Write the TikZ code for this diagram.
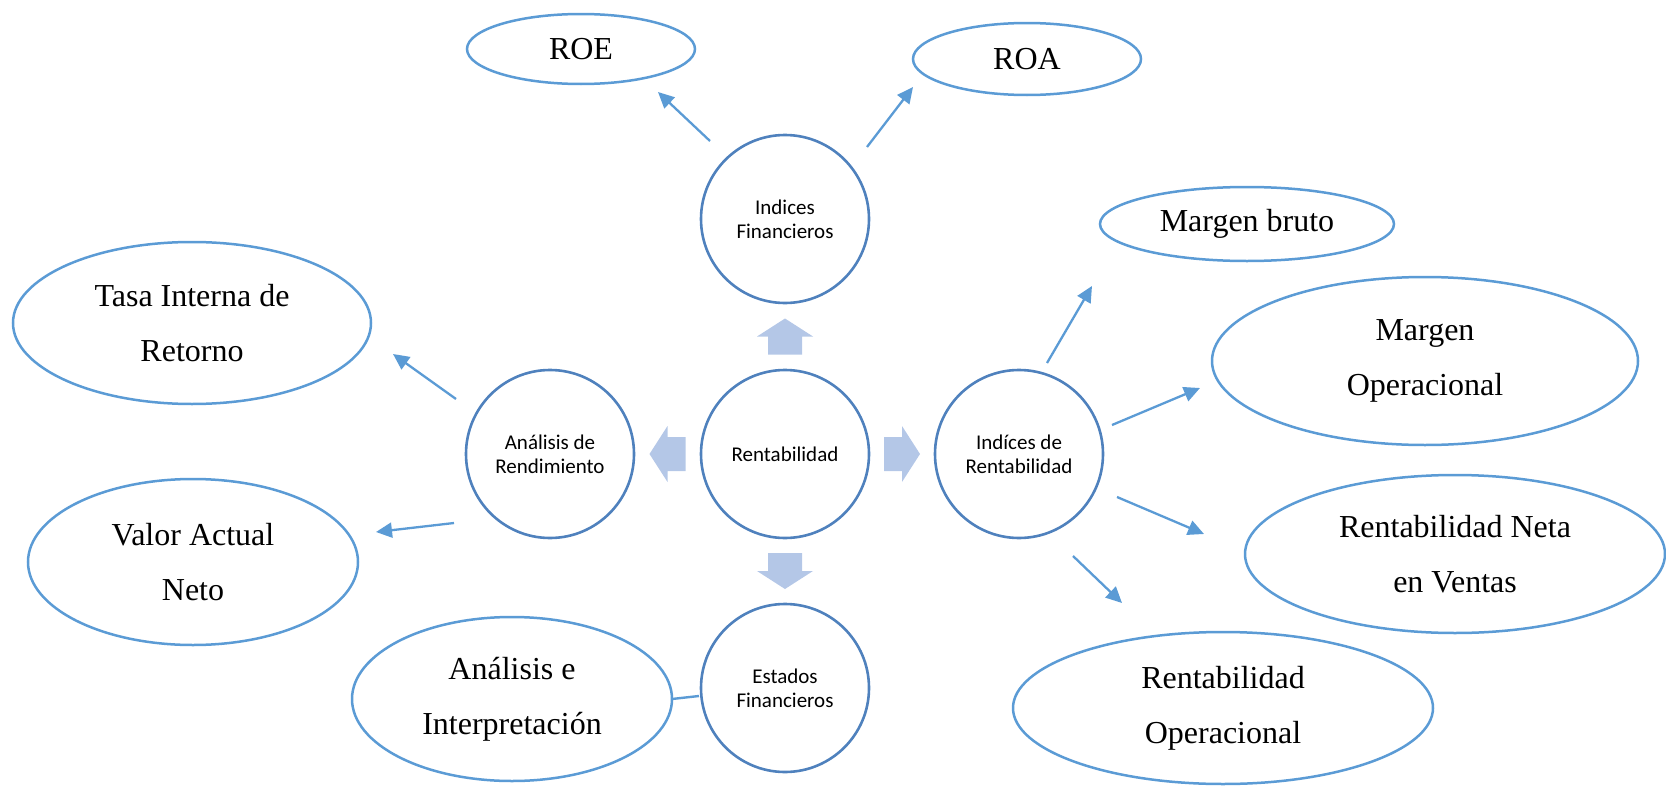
\documentclass[tikz,border=0pt]{standalone}
\usepackage{fontspec}
\setmainfont{Liberation Serif}
\newfontfamily\hubfont{Carlito}
\usetikzlibrary{shapes.geometric,arrows.meta,calc}

\definecolor{ringblue}{HTML}{4F81BD}
\definecolor{ovalblue}{HTML}{5B9BD5}
\definecolor{linkblue}{HTML}{5B9BD5}
\definecolor{blockblue}{HTML}{B4C7E7}

\begin{document}
\begin{tikzpicture}[x=0.5pt,y=-0.5pt,
  hub/.style={circle, draw=ringblue, line width=1.3pt, minimum size=84pt,
    inner sep=0pt, align=center, font=\hubfont\fontsize{10.5}{12}\selectfont},
  oval/.style 2 args={ellipse, draw=ovalblue, line width=1.25pt,
    minimum width=#1, minimum height=#2, inner sep=0pt, align=center,
    font=\fontsize{16}{27.5}\selectfont},
  link/.style={draw=linkblue, line width=1.15pt, -{Triangle[length=8pt,width=7.5pt]}},
  tie/.style={draw=ovalblue, line width=1.2pt},
  bigarrow/.pic={\fill[blockblue] (-18,-17) -- (0,-17) -- (0,-28) -- (18,0)
    -- (0,28) -- (0,17) -- (-18,17) -- cycle;}
]
\useasboundingbox (0,0) rectangle (1666,787);

% central hubs
\node[hub] (IF) at (785,219) {Indices\\Financieros};
\node[hub] (R)  at (785,454) {Rentabilidad};
\node[hub] (AR) at (550,454) {Análisis de\\Rendimiento};
\node[hub] (IR) at (1019,454) {Indíces de\\Rentabilidad};
\node[hub] (EF) at (785,688) {Estados\\Financieros};

% outer ovals
\node[oval={114pt}{35pt}] (ROE) at (581,49) {ROE};
\node[oval={114pt}{36pt}] (ROA) at (1027,59) {ROA};
\node[oval={147pt}{37pt}] (MB)  at (1247,224) {Margen bruto};
\node[oval={179pt}{81pt}] (TIR) at (192,323) {Tasa Interna de\\Retorno};
\node[oval={213pt}{84pt}] (MO)  at (1425,361) {Margen\\Operacional};
\node[oval={165pt}{83pt}] (VAN) at (193,562) {Valor Actual\\Neto};
\node[oval={210pt}{79pt}] (RN)  at (1455,554) {Rentabilidad Neta\\en Ventas};
\node[oval={160pt}{82pt}] (AI)  at (512,699) {Análisis e\\Interpretación};
\node[oval={210pt}{76pt}] (RO)  at (1223,708) {Rentabilidad\\Operacional};

% block arrows from the centre
\pic[rotate=90]  at ($(R)!0.5!(IF)$) {bigarrow};
\pic[rotate=180] at ($(R)!0.5!(AR)$) {bigarrow};
\pic             at ($(R)!0.5!(IR)$) {bigarrow};
\pic[rotate=-90] at ($(R)!0.5!(EF)$) {bigarrow};

% thin connectors
\draw[link] ([shift={(-75,-78)}]IF.center) -- ([shift={(77,43)}]ROE.center);
\draw[link] ([shift={(82,-72)}]IF.center) -- ([shift={(-114,28)}]ROA.center);
\draw[link] ([shift={(-94,-55)}]AR.center) -- ([shift={(201,31)}]TIR.center);
\draw[link] ([shift={(-96,69)}]AR.center) -- ([shift={(183,-30)}]VAN.center);
\draw[link] ([shift={(28,-91)}]IR.center) -- ([shift={(-155,62)}]MB.center);
\draw[link] ([shift={(93,-29)}]IR.center) -- ([shift={(-225,27)}]MO.center);
\draw[link] ([shift={(98,43)}]IR.center) -- ([shift={(-251,-20)}]RN.center);
\draw[link] ([shift={(54,102)}]IR.center) -- ([shift={(-101,-105)}]RO.center);
\draw[tie] ([shift={(160,0)}]AI.center) -- ([shift={(-86,8)}]EF.center);
\end{tikzpicture}
\end{document}
